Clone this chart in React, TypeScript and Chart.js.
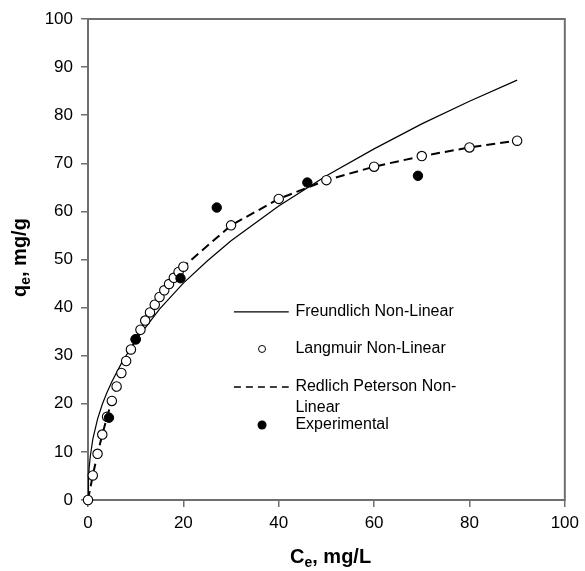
import { useEffect, useRef } from 'react';
import { Chart, registerables } from 'chart.js';

Chart.register(...registerables);

const FONT = '"Liberation Sans", Arial, Helvetica, sans-serif';

// Langmuir Non-Linear (open circles)
const langmuirX = [0, 1, 2, 3, 4, 5, 6, 7, 8, 9, 10, 11, 12, 13, 14, 15, 16, 17, 18, 19, 20, 30, 40, 50, 60, 70, 80, 90];
const langmuirY = [0, 5.1, 9.6, 13.6, 17.3, 20.6, 23.6, 26.4, 28.9, 31.3, 33.4, 35.4, 37.3, 39.0, 40.6, 42.2, 43.6, 44.9, 46.2, 47.4, 48.5, 57.1, 62.6, 66.5, 69.3, 71.5, 73.3, 74.7];

// Redlich Peterson Non-Linear (dashed line)
const redlichX = [0, 1, 2, 3, 4, 5, 6, 7, 8, 9, 10, 11, 12, 13, 14, 15, 16, 17, 18, 19, 20, 30, 40, 50, 60, 70, 80, 90];
const redlichY = [0, 5.1, 9.6, 13.6, 17.3, 20.6, 23.6, 26.4, 28.9, 31.3, 33.4, 35.4, 37.3, 39.0, 40.6, 42.2, 43.6, 44.9, 46.2, 47.4, 48.5, 57.1, 62.6, 66.5, 69.3, 71.5, 73.3, 74.7];

// Freundlich Non-Linear (solid line)
const freundlichX = [0, 0.1, 0.25, 0.5, 1, 2, 3, 4, 5, 7, 10, 15, 20, 25, 30, 40, 50, 60, 70, 80, 90];
const freundlichY = [0, 4.5, 6.8, 9.2, 12.6, 16.8, 19.9, 22.4, 24.6, 28.4, 33.2, 39.7, 45.1, 49.7, 53.9, 61.1, 67.4, 73.0, 78.2, 82.9, 87.3];

// Experimental (filled circles)
const expX = [4.4, 10, 19.4, 27, 46, 69.2];
const expY = [17.1, 33.4, 46.1, 60.8, 66.0, 67.4];

const xTickValues = [0, 20, 40, 60, 80, 100];
const yTickValues = [0, 10, 20, 30, 40, 50, 60, 70, 80, 90, 100];

const legendLabels = ['Freundlich Non-Linear', 'Langmuir Non-Linear', 'Redlich Peterson Non-', 'Linear', 'Experimental'];

const toPts = (xs: number[], ys: number[]) => xs.map((x, i) => ({ x, y: ys[i] }));

const framePlugin = {
  id: 'frame',
  beforeDatasetsDraw(chart: any) {
    const { ctx, chartArea: a } = chart;
    ctx.save();
    ctx.strokeStyle = '#6e6e6e';
    ctx.lineWidth = 2;
    ctx.strokeRect(a.left, a.top, a.right - a.left, a.bottom - a.top);
    ctx.restore();
  },
};

const titlesPlugin = {
  id: 'titles',
  afterDraw(chart: any) {
    const { ctx } = chart;
    const drawSub = (main: string, sub: string, rest: string) => {
      ctx.font = `bold 20px ${FONT}`;
      ctx.fillText(main, 0, 0);
      let w = ctx.measureText(main).width;
      ctx.font = `bold 14px ${FONT}`;
      ctx.fillText(sub, w, 4);
      w += ctx.measureText(sub).width;
      ctx.font = `bold 20px ${FONT}`;
      ctx.fillText(rest, w, 0);
    };
    ctx.save();
    ctx.fillStyle = '#000';
    ctx.textBaseline = 'alphabetic';
    ctx.textAlign = 'left';
    ctx.save();
    ctx.translate(290, 563);
    drawSub('C', 'e', ', mg/L');
    ctx.restore();
    ctx.save();
    ctx.translate(26, 297);
    ctx.rotate(-Math.PI / 2);
    drawSub('q', 'e', ', mg/g');
    ctx.restore();
    ctx.restore();
  },
};

const legendPlugin = {
  id: 'customLegend',
  afterDraw(chart: any) {
    const { ctx } = chart;
    const xs = chart.scales.x;
    const ys = chart.scales.y;
    const px = (v: number) => xs.getPixelForValue(v);
    const py = (v: number) => ys.getPixelForValue(v);
    const lx0 = px(30.6);
    const lx1 = px(42.1);
    const cx = px(36.5);
    const tx = px(43.5);
    const rows = [py(39.1), py(31.4), py(23.5), py(19.3), py(15.6)];
    ctx.save();
    ctx.strokeStyle = '#000';
    ctx.lineWidth = 1.2;
    ctx.beginPath();
    ctx.moveTo(lx0, rows[0]);
    ctx.lineTo(lx1, rows[0]);
    ctx.stroke();
    ctx.beginPath();
    ctx.arc(cx, rows[1], 3.5, 0, Math.PI * 2);
    ctx.fillStyle = '#fff';
    ctx.fill();
    ctx.lineWidth = 1;
    ctx.stroke();
    ctx.lineWidth = 1.6;
    ctx.setLineDash([7, 5]);
    ctx.beginPath();
    ctx.moveTo(lx0, rows[2]);
    ctx.lineTo(lx1, rows[2]);
    ctx.stroke();
    ctx.setLineDash([]);
    ctx.beginPath();
    ctx.arc(cx, rows[4], 4.5, 0, Math.PI * 2);
    ctx.fillStyle = '#000';
    ctx.fill();
    ctx.fillStyle = '#000';
    ctx.font = `16px ${FONT}`;
    ctx.textAlign = 'left';
    ctx.textBaseline = 'middle';
    legendLabels.forEach((t, i) => ctx.fillText(t, tx, rows[i]));
    ctx.restore();
  },
};

export default function App() {
  const ref = useRef<HTMLCanvasElement | null>(null);
  useEffect(() => {
    if (!ref.current) return;
    const chart = new Chart(ref.current, {
      type: 'scatter',
      data: {
        datasets: [
          {
            label: 'Experimental',
            data: toPts(expX, expY),
            showLine: false,
            pointRadius: 4.7,
            pointBackgroundColor: '#000',
            pointBorderColor: '#000',
            pointBorderWidth: 1,
            order: 0,
            clip: false,
          },
          {
            label: 'Langmuir Non-Linear',
            data: toPts(langmuirX, langmuirY),
            showLine: false,
            pointRadius: 4.7,
            pointBackgroundColor: '#fff',
            pointBorderColor: '#000',
            pointBorderWidth: 1.1,
            order: 1,
            clip: false,
          },
          {
            label: 'Redlich Peterson Non-Linear',
            data: toPts(redlichX, redlichY),
            showLine: true,
            borderColor: '#000',
            borderWidth: 2,
            borderDash: [9, 5],
            pointRadius: 0,
            order: 2,
            clip: false,
          },
          {
            label: 'Freundlich Non-Linear',
            data: toPts(freundlichX, freundlichY),
            showLine: true,
            borderColor: '#000',
            borderWidth: 1.2,
            pointRadius: 0,
            order: 3,
            clip: false,
          },
        ] as any,
      },
      options: {
        animation: false,
        responsive: false,
        layout: { padding: { top: 19, right: 18, left: 0, bottom: 0 } },
        plugins: { legend: { display: false }, tooltip: { enabled: false } },
        scales: {
          x: {
            type: 'linear',
            min: 0,
            max: 100,
            afterBuildTicks: (s: any) => { s.ticks = xTickValues.map((v) => ({ value: v })); },
            afterFit: (s: any) => { s.height = 71; },
            ticks: { color: '#000', font: { size: 17, family: FONT }, padding: 6, maxRotation: 0 },
            grid: { drawOnChartArea: false, drawTicks: true, tickLength: 7, color: '#6e6e6e', lineWidth: 1.5 },
            border: { display: false },
          },
          y: {
            type: 'linear',
            min: 0,
            max: 100,
            afterBuildTicks: (s: any) => { s.ticks = yTickValues.map((v) => ({ value: v })); },
            afterFit: (s: any) => { s.width = 88; },
            ticks: { color: '#000', font: { size: 17, family: FONT }, padding: 8 },
            grid: { drawOnChartArea: false, drawTicks: true, tickLength: 7, color: '#6e6e6e', lineWidth: 1.5 },
            border: { display: false },
          },
        },
      } as any,
      plugins: [framePlugin, titlesPlugin, legendPlugin],
    });
    return () => chart.destroy();
  }, []);
  return (
    <div style={{ position: 'absolute', left: 0, top: 0, width: 585, height: 571, background: '#fff' }}>
      <canvas ref={ref} width={585} height={571} style={{ display: 'block' }} />
    </div>
  );
}
